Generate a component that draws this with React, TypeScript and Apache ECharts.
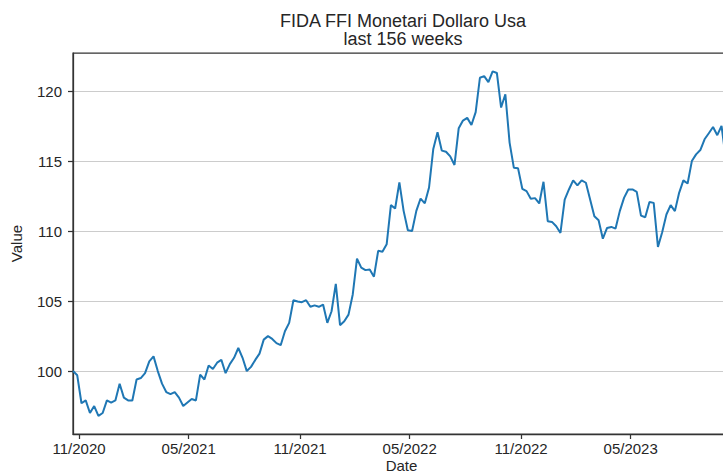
import React, { useEffect, useRef } from "react";
import * as echarts from "echarts";

const titleLines = ["FIDA FFI Monetari Dollaro Usa", "last 156 weeks"];
const xAxisName = "Date";
const yAxisName = "Value";

// weekly series, first observation date
const startDate = [2020, 9, 22]; // 22 Oct 2020 (month is 0-based)
const weeks = 156;

const values = [
  100.0, 99.7, 97.7, 97.9, 97.0, 97.5, 96.8, 97.0, 97.9, 97.75,
  97.9, 99.1, 98.1, 97.9, 97.9, 99.4, 99.5, 99.85, 100.7, 101.05,
  100.0, 99.1, 98.5, 98.35, 98.5, 98.1, 97.5, 97.75, 98.0, 97.9,
  99.75, 99.4, 100.4, 100.15, 100.6, 100.8, 99.85, 100.5, 100.95, 101.65,
  100.95, 100.0, 100.3, 100.8, 101.25, 102.25, 102.5, 102.3, 102.0, 101.85,
  102.85, 103.45, 105.07, 104.98, 104.93, 105.07, 104.6, 104.7, 104.6, 104.76,
  103.45, 104.28, 106.24, 103.28, 103.56, 104.04, 105.48, 108.04, 107.4, 107.22,
  107.27, 106.75, 108.6, 108.54, 109.07, 111.87, 111.63, 113.5, 111.46, 110.07,
  110.02, 111.46, 112.34, 112.0, 113.13, 115.89, 117.08, 115.77, 115.69, 115.36,
  114.74, 117.37, 117.92, 118.11, 117.6, 118.52, 120.98, 121.1, 120.67, 121.44,
  121.32, 118.85, 119.8, 116.34, 114.55, 114.5, 113.04, 112.87, 112.32, 112.37,
  111.99, 113.54, 110.72, 110.67, 110.36, 109.88, 112.27, 112.99, 113.64, 113.28,
  113.64, 113.47, 112.27, 111.08, 110.79, 109.47, 110.24, 110.31, 110.19, 111.44,
  112.39, 112.99, 112.99, 112.82, 111.12, 111.0, 112.1, 112.03, 108.88, 109.93,
  111.2, 111.87, 111.44, 112.75, 113.64, 113.42, 115.02, 115.5, 115.81, 116.58,
  117.01, 117.46, 116.87, 117.54, 115.2, 115.6,
];

const xTickMonths: [number, number][] = [
  [2020, 10], [2021, 4], [2021, 10], [2022, 4], [2022, 10], [2023, 4],
];
const yTicks = [100, 105, 110, 115, 120];
const yMin = 95.5;
const yMax = 122.75;

const TEXT = "#262626";
const FONT = "'Liberation Sans', Arial, sans-serif";

export default function App() {
  const ref = useRef<HTMLDivElement>(null);

  useEffect(() => {
    if (!ref.current) return;
    const chart = echarts.init(ref.current, undefined, { renderer: "svg" });

    const dates: number[] = [];
    for (let i = 0; i < weeks; i++) {
      dates.push(new Date(startDate[0], startDate[1], startDate[2] + 7 * i).getTime());
    }
    const data = values.map((v, i) => [dates[i], v]);
    const xTicks = xTickMonths.map(([y, m]) => new Date(y, m, 1).getTime());
    const pad = (n: number) => (n < 10 ? "0" + n : "" + n);

    chart.setOption({
      animation: false,
      backgroundColor: "#ffffff",
      textStyle: { fontFamily: FONT },
      graphic: [
        {
          type: "text",
          style: {
            text: titleLines[0],
            x: 403,
            y: 20.5,
            align: "center",
            verticalAlign: "middle",
            lineHeight: 17,
            font: `18px ${FONT}`,
            fill: TEXT,
          },
        },
        {
          type: "text",
          style: {
            text: titleLines[1],
            x: 403,
            y: 39,
            align: "center",
            verticalAlign: "middle",
            lineHeight: 17,
            font: `18px ${FONT}`,
            fill: TEXT,
          },
        },
      ],
      grid: {
        left: 73,
        top: 53,
        bottom: 41,
        right: -7,
        outerBoundsMode: "none",
        containLabel: false,
        show: true,
        borderColor: "#333333",
        borderWidth: 1.25,
        backgroundColor: "transparent",
      },
      xAxis: {
        type: "value",
        min: dates[0],
        max: dates[dates.length - 1],
        name: xAxisName,
        nameLocation: "middle",
        nameMoveOverlap: false,
        nameGap: 24,
        nameTextStyle: { color: TEXT, fontSize: 15, lineHeight: 15, fontFamily: FONT },
        axisLine: { show: true, lineStyle: { color: "#333333", width: 1.25 } },
        axisTick: {
          show: true,
          length: 5,
          lineStyle: { color: "#333333", width: 1.25 },
          customValues: xTicks,
        },
        axisLabel: {
          customValues: xTicks,
          color: TEXT,
          fontSize: 15,
          fontFamily: FONT,
          margin: 7,
          hideOverlap: false,
          formatter: (v: number) => {
            const d = new Date(v);
            return pad(d.getMonth() + 1) + "/" + d.getFullYear();
          },
        },
        splitLine: { show: false },
      },
      yAxis: {
        type: "value",
        min: yMin,
        max: yMax,
        name: yAxisName,
        nameLocation: "middle",
        nameGap: 49,
        nameTextStyle: { color: TEXT, fontSize: 15, fontFamily: FONT },
        axisLine: { show: true, lineStyle: { color: "#333333", width: 1.25 } },
        axisTick: {
          show: true,
          length: 5,
          lineStyle: { color: "#333333", width: 1.25 },
          customValues: yTicks,
        },
        axisLabel: {
          customValues: yTicks,
          color: TEXT,
          fontSize: 15,
          fontFamily: FONT,
          margin: 11,
          formatter: (v: number) => String(v),
        },
        splitLine: { show: true, lineStyle: { color: "#cccccc", width: 1 } },
      },
      series: [
        {
          type: "line",
          data,
          showSymbol: false,
          symbol: "none",
          lineStyle: { color: "#1f77b4", width: 2 },
          itemStyle: { color: "#1f77b4" },
        },
      ],
    });

    return () => chart.dispose();
  }, []);

  return <div ref={ref} style={{ width: 723, height: 475, position: "absolute", left: 0, top: 0 }} />;
}
